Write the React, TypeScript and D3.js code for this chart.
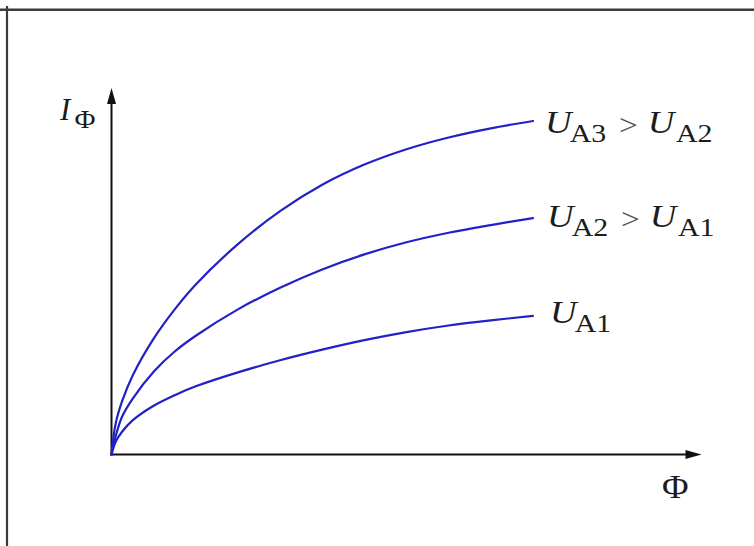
import React from "react";
import * as d3 from "d3";

// Photocurrent I_Φ versus luminous flux Φ for three anode voltages
const fluxValues = [0, 0.1, 0.25, 0.5, 1, 1.5, 2, 3, 4, 5, 6, 7, 8, 9, 10];
const currentUA3 = [0, 8.5, 14.5, 21.5, 31.6, 39.6, 46.4, 57.4, 66.4, 73.6, 79.1, 83.3, 86.5, 89, 91];
const currentUA2 = [0, 5, 10.3, 15.2, 22.6, 28.1, 32.4, 39.6, 45.5, 50.5, 54.6, 57.9, 60.5, 62.6, 64.5];
const currentUA1 = [0, 3.5, 6.2, 9.3, 13.3, 16.2, 18.6, 22.4, 25.7, 28.6, 31.2, 33.4, 35.2, 36.6, 37.8];

// Label pieces: [main letter, subscript, relation, main letter, subscript]
const seriesLabels: string[][] = [
  ["U", "A3", ">", "U", "A2"],
  ["U", "A2", ">", "U", "A1"],
  ["U", "A1"],
];
const seriesCurrents = [currentUA3, currentUA2, currentUA1];

const W = 754;
const H = 546;
const FONT = "'Liberation Serif', 'Times New Roman', serif";
const INK = "#1c1c1c";
const CURVE = "#2121c6";

export default function App() {
  const x = d3.scaleLinear().domain([0, 14]).range([111.5, 701.5]);
  const y = d3.scaleLinear().domain([0, 100]).range([454.5, 88]);

  const line = d3
    .line<[number, number]>()
    .x((d) => x(d[0]))
    .y((d) => y(d[1]))
    .curve(d3.curveCatmullRom.alpha(0.5));

  const x0 = x(0);
  const y0 = y(0);
  const xTip = x(14);
  const yTip = y(100);
  const headLen = 16;
  const headHalf = 4.5;

  // label anchor offsets from each curve's end point
  const labelDy = [12, 9, 7];
  const labelDx = [12, 14, 17];
  const sx = 1.15;

  return (
    <svg
      width={W}
      height={H}
      viewBox={`0 0 ${W} ${H}`}
      style={{ position: "absolute", left: 0, top: 0, background: "#fff" }}
    >
      {/* frame edges */}
      <line x1={0} x2={W} y1={9.7} y2={9.7} stroke="#3c3c3c" strokeWidth={2.6} />
      <line x1={7} x2={7} y1={6} y2={H} stroke="#3c3c3c" strokeWidth={2.2} />

      {/* axes with arrowheads */}
      <line x1={x0} x2={x0} y1={y0 + 1} y2={yTip + headLen - 1} stroke="#111" strokeWidth={2} />
      <path
        d={`M${x0},${yTip} L${x0 - headHalf},${yTip + headLen} L${x0 + headHalf},${yTip + headLen} Z`}
        fill="#111"
      />
      <line x1={x0 - 1} x2={xTip - headLen + 1} y1={y0} y2={y0} stroke="#111" strokeWidth={2} />
      <path
        d={`M${xTip},${y0} L${xTip - headLen},${y0 - headHalf} L${xTip - headLen},${y0 + headHalf} Z`}
        fill="#111"
      />

      {/* curves */}
      {seriesCurrents.map((vals, i) => (
        <path
          key={i}
          d={line(fluxValues.map((f, j) => [f, vals[j]] as [number, number])) || ""}
          fill="none"
          stroke={CURVE}
          strokeWidth={2.2}
          strokeLinecap="round"
          strokeLinejoin="round"
        />
      ))}

      {/* curve labels */}
      {seriesLabels.map((parts, i) => {
        const vals = seriesCurrents[i];
        const last = fluxValues.length - 1;
        const lx = x(fluxValues[last]) + labelDx[i];
        const ly = y(vals[last]) + labelDy[i];
        return (
          <g key={i} transform={`translate(${lx},${ly}) scale(${sx},1)`} fill={INK} fontFamily={FONT}>
            <text x={0} y={0} fontSize={32} fontStyle="italic">{parts[0]}</text>
            <text x={21.5} y={9} fontSize={26}>{parts[1]}</text>
            {parts.length > 2 && (
              <>
                <text x={64.5} y={2} fontSize={29} fill="#555">{parts[2]}</text>
                <text x={89.5} y={0} fontSize={32} fontStyle="italic">{parts[3]}</text>
                <text x={114} y={9} fontSize={26}>{parts[4]}</text>
              </>
            )}
          </g>
        );
      })}

      {/* axis titles */}
      <g fill={INK} fontFamily={FONT}>
        <text x={60} y={120} fontSize={31} fontStyle="italic">I</text>
        <text x={0} y={0} fontSize={25} transform="translate(74.5,128) scale(1.15,1)">Φ</text>
        <text x={0} y={0} fontSize={33} transform="translate(662,498) scale(1.1,1)">Φ</text>
      </g>
    </svg>
  );
}
